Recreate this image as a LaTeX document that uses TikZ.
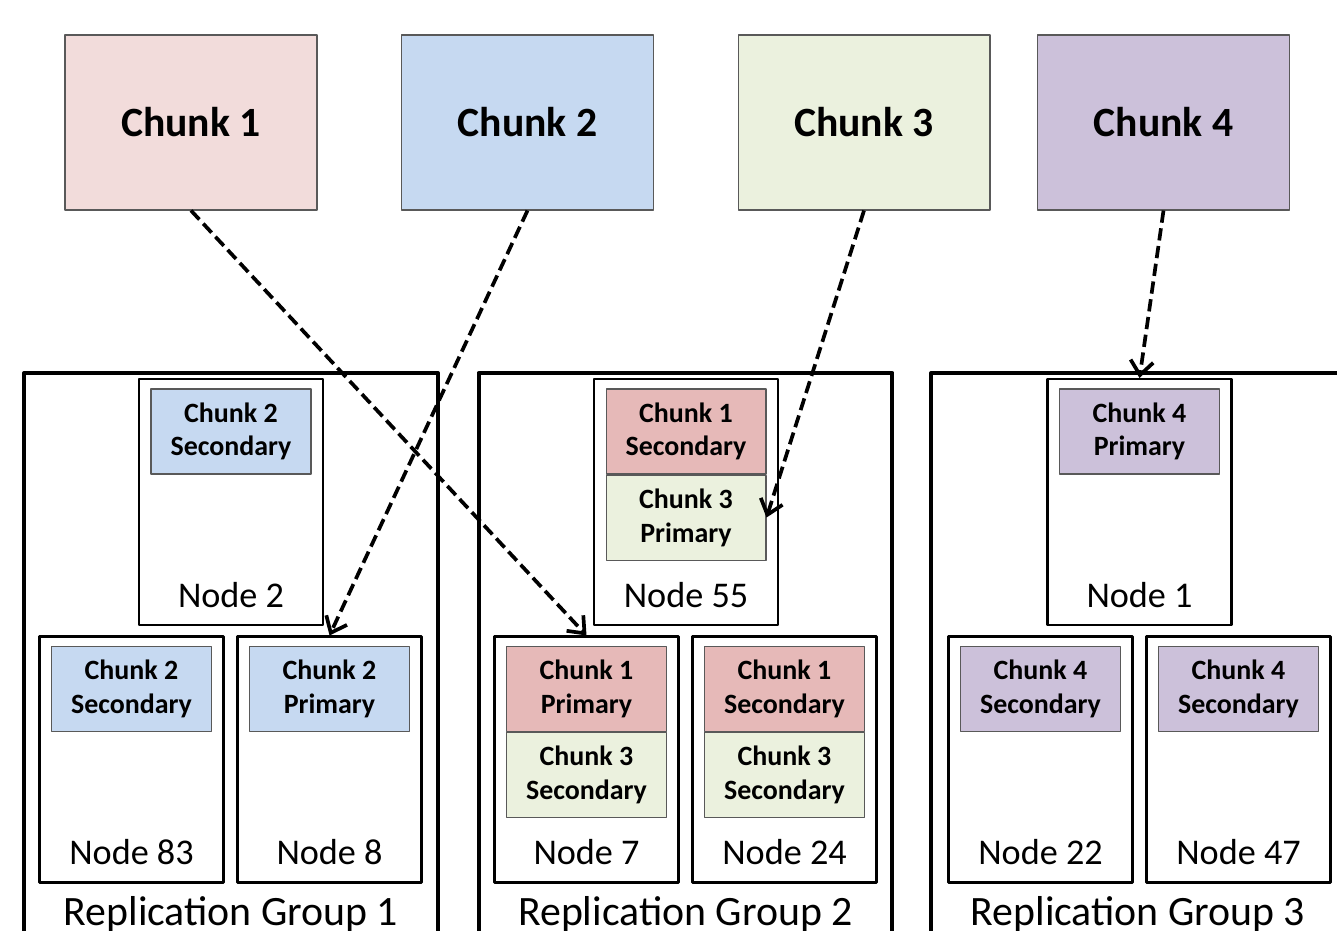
\documentclass[tikz,border=0pt]{standalone}
\usepackage{fontspec}
\setmainfont{Carlito}
\usetikzlibrary{arrows.meta,positioning}
\definecolor{rosa}{HTML}{F2DCDB}
\definecolor{rosadark}{HTML}{E6B9B8}
\definecolor{blau}{HTML}{C6D9F1}
\definecolor{gruen}{HTML}{EBF1DE}
\definecolor{lila}{HTML}{CCC1DA}
\definecolor{rand}{HTML}{595959}
\tikzset{
	chunk/.style={draw=rand,line width=0.6pt,minimum width=5.04cm,minimum height=3.5cm,font=\fontsize{23.7}{28}\selectfont\bfseries},
	grp/.style={draw,line width=2.3pt,minimum width=8.28cm,minimum height=12cm,anchor=north},
	srv/.style={draw,line width=1.2pt,minimum width=3.68cm,minimum height=4.92cm},
	part/.style={draw=rand,line width=0.6pt,minimum width=3.2cm,minimum height=1.7cm,inner sep=0pt,align=center,font=\fontsize{15.9}{19.2}\selectfont\bfseries},
	srvlabel/.style={anchor=base,font=\fontsize{20.6}{24}\selectfont},
	grplabel/.style={anchor=base,font=\fontsize{23.8}{28}\selectfont},
	link/.style={line width=2.1pt,dash pattern=on 7pt off 3.2pt,-{Straight Barb[length=8pt,width=13pt]}}
}
\begin{document}
\begin{tikzpicture}[x=0.02cm,y=-0.02cm,line join=round]
	\clip (0,0) rectangle (1337,930);
	% replication groups
	\node[grp] (g1) at (231,371) {};
	\node[grp] (g2) at (685.5,371) {};
	\node[grp] (g3) at (1138,371) {};
	\node[grplabel] (l1) at (231,925) {Replication Group 1};
	\node[grplabel] (l2) at (685.5,925) {Replication Group 2};
	\node[grplabel] (l3) at (1138,925) {Replication Group 3};
	% storage nodes
	\foreach \s/\num/\x/\y in
	{n2/2/231/502,n83/83/131.5/759.5,n8/8/329.5/759.5,
	 n55/55/686/502,n7/7/586.5/759.5,n24/24/784.5/759.5,
	 n1/1/1139.5/502,n22/22/1040.5/759.5,n47/47/1238.5/759.5}
	{\node[srv] (\s) at (\x,\y) {};
	 \node[srvlabel] (t\s) at ([yshift=0.38cm]\s.south) {Node \num};}
	% replicas
	\foreach \s/\f/\k/\t in
	{n2/blau/2/Secondary,n83/blau/2/Secondary,n8/blau/2/Primary,
	 n55/rosadark/1/Secondary,n7/rosadark/1/Primary,n24/rosadark/1/Secondary,
	 n1/lila/4/Primary,n22/lila/4/Secondary,n47/lila/4/Secondary}
	\node[part,fill=\f,below=0.21cm of \s.north] (p\s) {Chunk \k\\\t};
	\node[part,fill=gruen,below=0pt of pn55] (qn55) {Chunk 3\\Primary};
	\node[part,fill=gruen,below=0pt of pn7] (qn7) {Chunk 3\\Secondary};
	\node[part,fill=gruen,below=0pt of pn24] (qn24) {Chunk 3\\Secondary};
	% chunks
	\node[chunk,fill=rosa] (c1) at (191,122.5) {Chunk 1};
	\node[chunk,fill=blau] (c2) at (527.5,122.5) {Chunk 2};
	\node[chunk,fill=gruen] (c3) at (864,122.5) {Chunk 3};
	\node[chunk,fill=lila] (c4) at (1163.5,122.5) {Chunk 4};
	\draw[link] (c1.south) -- (n7.north);
	\draw[link] (c2.south) -- (n8.north);
	\draw[link] (c3.south) -- (qn55.east);
	\draw[link] (c4.south) -- (n1.north);
\end{tikzpicture}
\end{document}
